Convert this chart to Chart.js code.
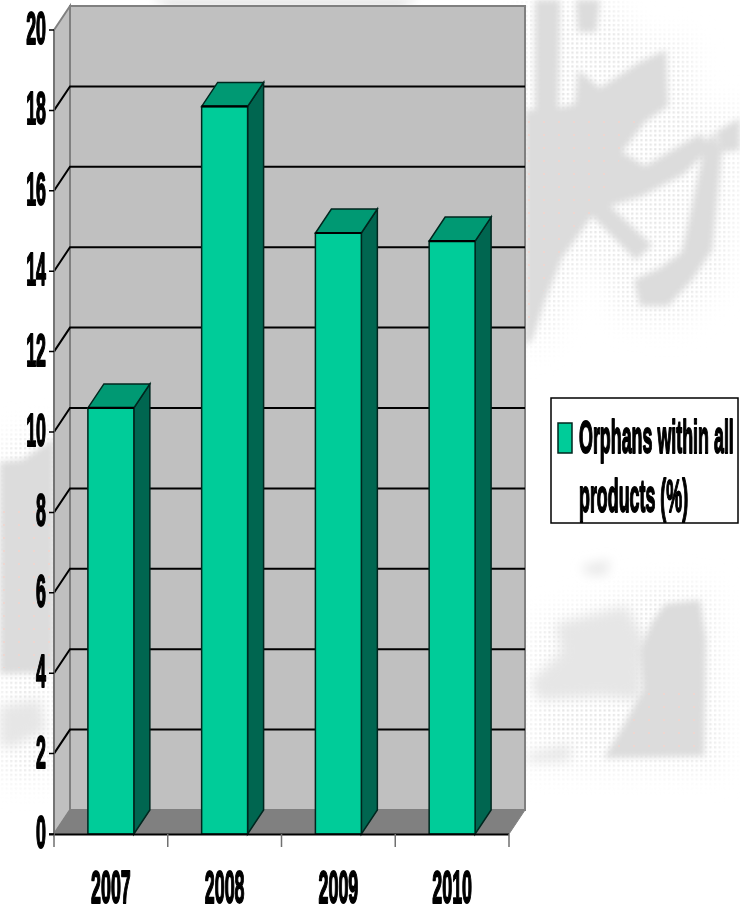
<!DOCTYPE html>
<html>
<head>
<meta charset="utf-8">
<script src="https://cdn.jsdelivr.net/npm/chart.js@4"></script>
<style>
  html, body { margin: 0; padding: 0; background: #fff; }
  #wrap { position: relative; width: 740px; height: 912px; overflow: hidden; }
  #wash { position: absolute; left: 0; top: 0; }
  canvas#c { position: absolute; left: 0; top: 0; }
</style>
</head>
<body>
<div id="wrap">
  <!-- pale halftone photo wash behind the chart -->
  <svg id="wash" width="740" height="912" viewBox="0 0 740 912">
    <defs>
      <filter id="soft" x="-10%" y="-10%" width="120%" height="120%"><feGaussianBlur stdDeviation="3.4"/></filter>
      <filter id="softer" x="-10%" y="-10%" width="120%" height="120%"><feGaussianBlur stdDeviation="6"/></filter>
      <filter id="halo" x="-15%" y="-15%" width="130%" height="130%"><feGaussianBlur stdDeviation="14"/></filter>
      <pattern id="dots" width="4.6" height="4.6" patternUnits="userSpaceOnUse">
        <rect x="1" y="1" width="2.2" height="2.2" fill="#000"/>
      </pattern>
      <mask id="halftone" maskUnits="userSpaceOnUse" x="0" y="0" width="740" height="912">
        <rect width="740" height="912" fill="url(#whiteDots)"/>
      </mask>
      <pattern id="whiteDots" width="4.6" height="4.6" patternUnits="userSpaceOnUse">
        <rect x="1" y="1" width="2.2" height="2.2" fill="#fff"/>
      </pattern>
      <pattern id="tint" width="15" height="13" patternUnits="userSpaceOnUse">
        <rect x="3" y="4" width="2" height="2" fill="#eed6d0"/>
      </pattern>
    </defs>
    <!-- dotted fringe that fades out around the darker shapes -->
    <g mask="url(#halftone)">
      <g filter="url(#halo)" fill="#e6e6e6">
        <path d="M525 0L610 0L640 40L690 40L700 120L740 100L740 170L725 280L680 325L620 320L590 250L550 340L525 350Z"/>
        <path d="M535 620L640 590L665 585L715 590L725 770L530 770Z"/>
        <path d="M0 440L54 425L54 780L0 780Z"/>
      </g>
    </g>
    <g filter="url(#softer)" fill="#e6e6e6">
      <path d="M556 624L626 606L645 640L640 700L600 696L540 700L530 682L562 652Z"/>
      <path d="M582 566L610 560L606 575L586 574Z"/>
      <path d="M0 706L40 700L46 730L10 748L0 745Z"/>
      <path d="M525 755L570 745L570 760L530 762Z"/>
    </g>
    <g filter="url(#soft)" fill="#dcdcdc">
      <path d="M525 110L535 110L535 0L560 0L558 108L575 104L578 70L600 88L640 62L666 50L668 106L645 122L622 152L645 166L700 134L712 146L684 174L642 196L610 206L652 245L636 260L592 216L562 258L545 300L532 340L525 345Z"/>
      <path d="M576 0L600 0L596 32L578 32Z"/>
      <path d="M634 280L660 268L682 252L704 150L712 132L722 150L712 250L692 280L668 306L640 306Z"/>
      <path d="M716 132L740 118L740 150L722 152Z"/>
      <path d="M0 462L22 460L34 452L54 438L54 672L0 674Z"/>
      <path d="M665 604L700 600L706 640L704 756L604 758L622 728L643 690L640 650L652 622Z"/>
      <path d="M150 0L420 0L400 5L170 5Z"/>
    </g>
    <g fill="url(#tint)">
      <path d="M525 118L640 118L600 200L560 255L530 320L525 320Z"/>
      <path d="M0 500L54 500L54 668L0 668Z"/>
      <path d="M645 690L700 690L700 752L615 752Z"/>
    </g>
  </svg>
  <canvas id="c" width="740" height="912"></canvas>
</div>
<script>
// Share of orphan products per year
const years = ['2007', '2008', '2009', '2010'];
const orphanShare = [10.6, 18.1, 14.95, 14.75];
const yTicks = [0, 2, 4, 6, 8, 10, 12, 14, 16, 18, 20];
const seriesName = 'Orphans within all products (%)';
const legendLines = ['Orphans within all', 'products (%)'];

// Oblique offset of the back wall from the front plane
const DEPTH_X = 16, DEPTH_Y = -24;
const FACE = '#00cc99', TOP = '#009973', SIDE = '#006650';
const WALL = '#c0c0c0', FLOOR = '#808080', EDGE = '#808080';

function poly(ctx, pts, fill, stroke, width) {
  ctx.beginPath();
  pts.forEach((p, i) => i ? ctx.lineTo(p[0], p[1]) : ctx.moveTo(p[0], p[1]));
  ctx.closePath();
  if (fill) { ctx.fillStyle = fill; ctx.fill(); }
  if (stroke) { ctx.strokeStyle = stroke; ctx.lineWidth = width; ctx.stroke(); }
}

// Horizontally condensed heavy lettering
function squeezed(ctx, text, x, y, align) {
  ctx.save();
  ctx.translate(x, y);
  ctx.scale(0.38, 1);
  ctx.font = 'bold 47px "Liberation Sans"';
  ctx.fillStyle = '#000';
  ctx.strokeStyle = '#000';
  ctx.lineWidth = 2;
  ctx.lineJoin = 'round';
  ctx.textAlign = align;
  ctx.textBaseline = 'middle';
  ctx.strokeText(text, 0, 0);
  ctx.fillText(text, 0, 0);
  ctx.restore();
}

const walls = {
  id: 'walls',
  beforeDatasetsDraw(chart) {
    const { ctx, chartArea: a, scales: { y } } = chart;
    const L = a.left, R = a.right, T = a.top, B = a.bottom;
    ctx.save();
    // side wall, back wall, floor
    poly(ctx, [[L, B], [L + DEPTH_X, B + DEPTH_Y], [L + DEPTH_X, T + DEPTH_Y], [L, T]], WALL, EDGE, 2);
    poly(ctx, [[L + DEPTH_X, B + DEPTH_Y], [R + DEPTH_X, B + DEPTH_Y], [R + DEPTH_X, T + DEPTH_Y], [L + DEPTH_X, T + DEPTH_Y]], WALL, EDGE, 2);
    poly(ctx, [[L, B], [R, B], [R + DEPTH_X, B + DEPTH_Y], [L + DEPTH_X, B + DEPTH_Y]], FLOOR, EDGE, 1);
    // grid lines run along the side wall and across the back wall
    ctx.strokeStyle = '#000';
    ctx.lineWidth = 2;
    yTicks.forEach(v => {
      if (v === 0 || v === 20) return;
      const py = y.getPixelForValue(v);
      ctx.beginPath();
      ctx.moveTo(L, py);
      ctx.lineTo(L + DEPTH_X, py + DEPTH_Y);
      ctx.lineTo(R + DEPTH_X, py + DEPTH_Y);
      ctx.stroke();
    });
    ctx.restore();
  },
  afterDatasetsDraw(chart) {
    const { ctx } = chart;
    ctx.save();
    chart.getDatasetMeta(0).data.forEach(bar => {
      const l = bar.x - bar.width / 2, r = bar.x + bar.width / 2, t = bar.y, b = bar.base;
      poly(ctx, [[r, b], [r + DEPTH_X, b + DEPTH_Y], [r + DEPTH_X, t + DEPTH_Y], [r, t]], SIDE, '#00261e', 1.5);
      poly(ctx, [[l, t], [r, t], [r + DEPTH_X, t + DEPTH_Y], [l + DEPTH_X, t + DEPTH_Y]], TOP, '#00261e', 1.5);
      poly(ctx, [[l, t], [r, t], [r, b], [l, b]], FACE, '#00261e', 1.5);
      ctx.strokeStyle = '#000';
      ctx.lineWidth = 2.2;
      ctx.beginPath();
      ctx.moveTo(l, t);
      ctx.lineTo(r, t);
      ctx.stroke();
    });
    ctx.restore();
  },
  afterDraw(chart) {
    const { ctx, chartArea: a, scales: { x, y } } = chart;
    ctx.save();
    // axis lines and tick marks
    ctx.strokeStyle = '#000';
    ctx.lineWidth = 2;
    ctx.beginPath();
    ctx.moveTo(a.left - 5, a.bottom + 0.5);
    ctx.lineTo(a.right, a.bottom + 0.5);
    ctx.stroke();
    ctx.strokeStyle = '#707070';
    ctx.lineWidth = 1.5;
    ctx.beginPath();
    ctx.moveTo(a.left, a.top);
    ctx.lineTo(a.left, a.bottom + 13);
    const step = (a.right - a.left) / years.length;
    for (let i = 0; i <= years.length; i++) {
      const tx = a.left + i * step;
      ctx.moveTo(tx, a.bottom);
      ctx.lineTo(tx, a.bottom + 13);
    }
    ctx.stroke();
    ctx.strokeStyle = '#000';
    ctx.beginPath();
    yTicks.forEach(v => {
      const py = y.getPixelForValue(v);
      ctx.moveTo(a.left - 5, py);
      ctx.lineTo(a.left, py);
    });
    ctx.stroke();
    yTicks.forEach(v => squeezed(ctx, String(v), a.left - 8, y.getPixelForValue(v) + 1, 'right'));
    years.forEach((yr, i) => squeezed(ctx, yr, x.getPixelForValue(i), 890, 'center'));
    // legend panel
    ctx.fillStyle = '#fff';
    ctx.fillRect(551, 398, 187, 125);
    ctx.strokeStyle = '#000';
    ctx.lineWidth = 1.5;
    ctx.strokeRect(551, 398, 187, 125);
    poly(ctx, [[558, 423], [572, 423], [572, 453], [558, 453]], FACE, '#00261e', 1.5);
    squeezed(ctx, legendLines[0], 579, 440, 'left');
    squeezed(ctx, legendLines[1], 579, 499, 'left');
    ctx.restore();
  }
};

new Chart(document.getElementById('c'), {
  type: 'bar',
  data: {
    labels: years,
    datasets: [{
      label: seriesName,
      data: orphanShare,
      backgroundColor: FACE,
      barPercentage: 0.404,
      categoryPercentage: 1
    }]
  },
  options: {
    responsive: false,
    animation: false,
    layout: { padding: { left: 54, right: 231, top: 30, bottom: 78 } },
    plugins: { legend: { display: false }, tooltip: { enabled: false } },
    scales: {
      x: { grid: { display: false, drawTicks: false }, border: { display: false }, ticks: { display: false } },
      y: {
        min: 0, max: 20,
        afterBuildTicks(s) { s.ticks = yTicks.map(value => ({ value })); },
        grid: { display: false, drawTicks: false }, border: { display: false }, ticks: { display: false }
      }
    }
  },
  plugins: [walls]
});
</script>
</body>
</html>
